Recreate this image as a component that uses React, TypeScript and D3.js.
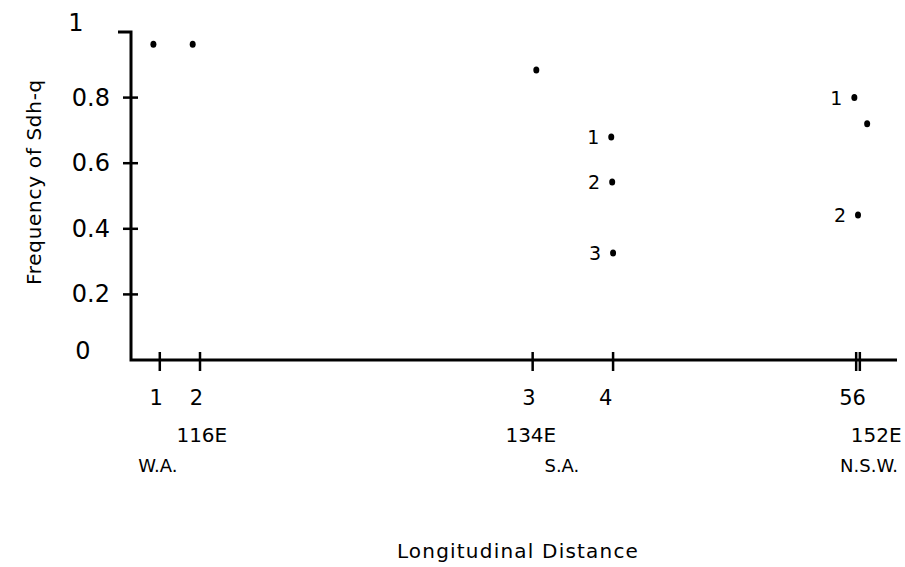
import { scaleLinear } from 'd3'

// sites along the transect (longitude, degrees E)
const siteNames = ['1', '2', '3', '4', '5', '6']
const siteLon = [113.8, 116, 134.2, 138.6, 151.9, 152.1]
const siteLabelText = ['1', '2', '3', '4', '56']
const siteLabelLon = [113.6, 115.8, 134.0, 138.2, 151.7]

const lonLabels = ['116E', '134E', '152E']
const lonLabelLon = [116.1, 134.1, 153.0]

const regions = ['W.A.', 'S.A.', 'N.S.W.']
const regionLon = [113.7, 135.8, 152.6]

// observed frequencies of Sdh-q
const pointLon = [113.45, 115.6, 134.4, 138.5, 138.55, 138.6, 151.8, 152.5, 152.0]
const pointFreq = [0.963, 0.963, 0.884, 0.68, 0.543, 0.326, 0.8, 0.72, 0.442]
const pointTag = ['', '', '', '1', '2', '3', '1', '', '2']

const yTicks = [0, 0.2, 0.4, 0.6, 0.8, 1]
const yTickLabels = ['0', '0.2', '0.4', '0.6', '0.8', '1']

const width = 905
const height = 567
const font = "'DejaVu Sans', Verdana, sans-serif"

const x = scaleLinear().domain([116, 152]).range([200, 858])
const y = scaleLinear().domain([0, 1]).range([360, 32])

const axisLeft = 131
const axisRight = 897

function App() {
  return (
    <svg
      width={width}
      height={height}
      style={{ position: 'absolute', left: 0, top: 0, background: '#fff' }}
      fontFamily={font}
    >
      {/* axes */}
      <path
        d={`M${axisLeft - 13},${y(1)} H${axisLeft} V${y(0)} H${axisRight}`}
        fill="none"
        stroke="#000"
        strokeWidth={3}
      />
      {yTicks.slice(1, 5).map((t) => (
        <line key={t} x1={axisLeft - 8} x2={axisLeft + 7} y1={y(t)} y2={y(t)} stroke="#000" strokeWidth={2.5} />
      ))}
      {yTicks.map((t, i) => {
        const end = t === 0 || t === 1
        return (
          <text
            key={t}
            x={t === 0 ? 83 : t === 1 ? 76 : 110}
            y={y(t) + (end ? -9 : 0)}
            textAnchor={end ? 'middle' : 'end'}
            dominantBaseline="central"
            fontSize={24}
          >
            {yTickLabels[i]}
          </text>
        )
      })}
      <text
        transform={`translate(34,${182}) rotate(-90)`}
        textAnchor="middle"
        dominantBaseline="central"
        fontSize={20}
        letterSpacing={0.7}
      >
        Frequency of Sdh-q
      </text>

      {siteNames.map((s, i) => (
        <line key={s} x1={x(siteLon[i])} x2={x(siteLon[i])} y1={352} y2={371} stroke="#000" strokeWidth={2.5} />
      ))}
      {siteLabelText.map((s, i) => (
        <text key={s} x={x(siteLabelLon[i])} y={405} textAnchor="middle" fontSize={21}>
          {s}
        </text>
      ))}
      {lonLabels.map((s, i) => (
        <text key={s} x={x(lonLabelLon[i])} y={442} textAnchor="middle" fontSize={20}>
          {s}
        </text>
      ))}
      {regions.map((s, i) => (
        <text key={s} x={x(regionLon[i])} y={472} textAnchor="middle" fontSize={18}>
          {s}
        </text>
      ))}
      <text x={518} y={558} textAnchor="middle" fontSize={20} letterSpacing={1.2}>
        Longitudinal Distance
      </text>

      {/* points */}
      {pointLon.map((lon, i) => (
        <g key={i}>
          <ellipse cx={x(lon)} cy={y(pointFreq[i])} rx={3} ry={3.5} fill="#000" />
          {pointTag[i] && (
            <text
              x={x(lon) - 12}
              y={y(pointFreq[i])}
              textAnchor="end"
              dominantBaseline="central"
              fontSize={19}
            >
              {pointTag[i]}
            </text>
          )}
        </g>
      ))}
    </svg>
  )
}

export default App
